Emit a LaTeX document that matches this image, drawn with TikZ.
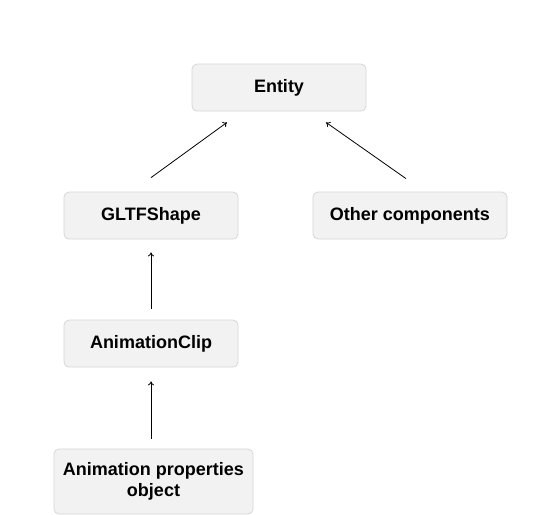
\documentclass[tikz,border=0pt]{standalone}
\usepackage{fontspec}
\setmainfont{Liberation Sans}
\usetikzlibrary{arrows.meta}
\definecolor{boxfill}{HTML}{F2F2F2}
\definecolor{boxline}{HTML}{D6D6D6}
\begin{document}
\begin{tikzpicture}[x=1pt,y=-1pt,
  box/.style={draw=boxline, fill=boxfill, rounded corners=5pt, line width=0.8pt,
    font=\fontsize{18}{21}\selectfont\bfseries, align=center, inner sep=0pt},
  conn/.style={draw=black, line width=0.8pt, -{To[length=4pt,width=6pt]}}]
\useasboundingbox[fill=white] (0,0) rectangle (558,515);
\node[box, minimum width=174pt, minimum height=47pt] (entity) at (279,87.5) {Entity};
\node[box, minimum width=174pt, minimum height=47pt] (gltf) at (151,215.5) {GLTFShape};
\node[box, minimum width=194pt, minimum height=47pt] (other) at (410,215.5) {Other components};
\node[box, minimum width=174pt, minimum height=47pt] (clip) at (151,343.5) {AnimationClip};
\node[box, minimum width=199pt, minimum height=65pt] (props) at (153.5,481.5) {Animation properties\\object};
\draw[conn] ([yshift=14pt]gltf.north) -- ([xshift=-52pt,yshift=-11pt]entity.south);
\draw[conn] ([xshift=-4pt,yshift=13pt]other.north) -- ([xshift=47pt,yshift=-11pt]entity.south);
\draw[conn] ([yshift=11pt]clip.north) -- ([yshift=-13pt]gltf.south);
\draw[conn] ([xshift=-2.5pt,yshift=10pt]props.north) -- ([yshift=-14pt]clip.south);
\end{tikzpicture}
\end{document}
